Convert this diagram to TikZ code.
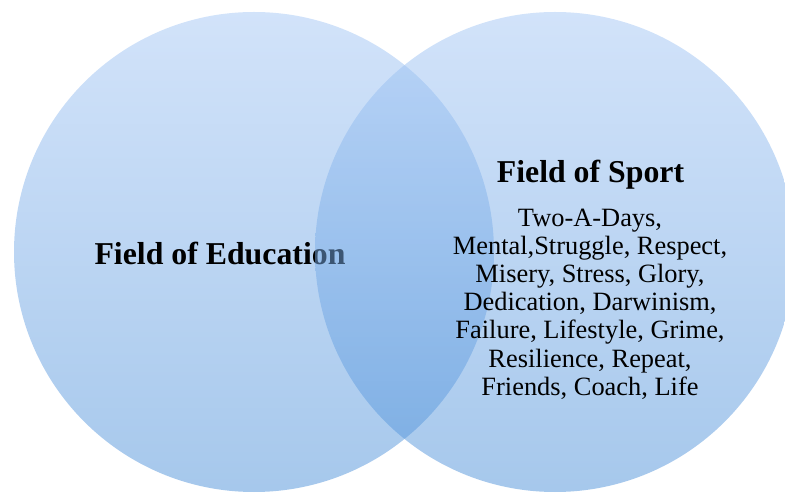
\documentclass[tikz,border=0pt]{standalone}
\usepackage{fontspec}
\setmainfont{Liberation Serif}
\definecolor{ctop}{RGB}{165,199,245}
\definecolor{cbot}{RGB}{77,145,217}
\tikzset{
  venn/.style={circle, minimum size=480pt, inner sep=0pt, top color=ctop, bottom color=cbot, fill opacity=0.5, draw=none},
  title/.style={font=\fontsize{31.8}{34}\selectfont\bfseries, inner sep=0pt, anchor=base},
  body/.style={font=\fontsize{26.4}{28.2}\selectfont, inner sep=0pt, align=center, anchor=north}
}
\begin{document}
\begin{tikzpicture}[x=1pt,y=1pt]
\useasboundingbox (0,0) rectangle (785,493);
\clip (0,0) rectangle (785,493);
\node[venn] (edu) at (254,241) {};
\node[title] (edutext) at (220,228) {Field of Education};
\node[venn] (sport) at (555,241) {};
\node[title] (sporttext) at (590.5,310) {Field of Sport};
\node[body] (words) at (590,284.5) {Two-A-Days,\\Mental,Struggle, Respect,\\Misery, Stress, Glory,\\Dedication, Darwinism,\\Failure, Lifestyle, Grime,\\Resilience, Repeat,\\Friends, Coach, Life};
\end{tikzpicture}
\end{document}
